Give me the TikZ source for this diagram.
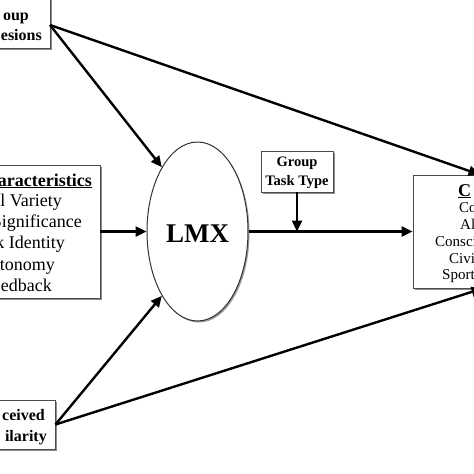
\documentclass[tikz,border=0pt]{standalone}
\usepackage{fontspec}
\setmainfont{Liberation Serif}
\usetikzlibrary{arrows.meta,shapes.geometric,shadows}
\begin{document}
\begin{tikzpicture}[x=1pt,y=-1pt,
  conn/.style={line width=2.4pt, draw=black},
  arr/.style={conn,-{Triangle[length=11pt,width=10pt]}},
  boxs/.style={draw=black!70, line width=0.9pt, fill=white, inner sep=0pt,
    drop shadow={shadow xshift=2pt, shadow yshift=-2pt, fill=black!45, opacity=1}},
  bt/.style={font=\bfseries\fontsize{16}{19}\selectfont, inner sep=0pt},
  it/.style={font=\fontsize{18}{21}\selectfont, inner sep=0pt},
  rt/.style={font=\fontsize{15}{18}\selectfont, inner sep=0pt},
]
\useasboundingbox (0,0) rectangle (474,474);
\clip (0,0) rectangle (474,474);
% boxes
\node[boxs, minimum width=170pt, minimum height=80pt] (tlbox) at (-35,8) {};
\node[boxs, minimum width=170pt, minimum height=133pt] (jcbox) at (15,231.5) {};
\node[boxs, minimum width=155pt, minimum height=49pt] (psbox) at (-22.5,424.5) {};
\node[boxs, minimum width=72pt, minimum height=41pt] (gtt) at (297,171.5) {};
\node[boxs, minimum width=147pt, minimum height=113pt] (rbox) at (486.5,231.5) {};
\node[ellipse, draw=black!80, line width=1pt, fill=white, inner sep=0pt,
  minimum width=101pt, minimum height=179pt,
  drop shadow={shadow xshift=1.5pt, shadow yshift=-1.5pt, fill=black!40, opacity=1}] (lmx) at (197.5,231.5) {};
% texts
\node[bt, anchor=base east] (t1) at (29,20) {oup};
\node[bt, anchor=base east] (t2) at (42,40.5) {esions};
\node[it, anchor=base east, font=\bfseries\fontsize{18}{21}\selectfont] (j0) at (92,186) {\underline{aracteristics}};
\node[it, anchor=base east] (j1) at (62,206) {l Variety};
\node[it, anchor=base east] (j2) at (82,227.5) {Significance};
\node[it, anchor=base east] (j3) at (65,248.5) {k Identity};
\node[it, anchor=base east] (j4) at (55,270) {utonomy};
\node[it, anchor=base east] (j5) at (52,291) {eedback};
\node[bt, anchor=base east] (p1) at (45,420) {ceived};
\node[bt, anchor=base east] (p2) at (47,441.5) {ilarity};
\node[bt, font=\bfseries\fontsize{14.5}{17}\selectfont, anchor=base] (g1) at (297,166) {Group};
\node[bt, font=\bfseries\fontsize{14.5}{17}\selectfont, anchor=base] (g2) at (297,185) {Task Type};
\node[bt, font=\bfseries\fontsize{27}{32}\selectfont, anchor=base] (lt) at (197.5,242) {LMX};
\node[rt, anchor=base west, font=\bfseries\fontsize{18}{21}\selectfont] (r0) at (458,196) {\underline{C}};
\node[rt, anchor=base west] (r1) at (459,212) {Co};
\node[rt, anchor=base west] (r2) at (460,229) {Al};
\node[rt, anchor=base west] (r3) at (435,246) {Consci};
\node[rt, anchor=base west] (r4) at (449,263) {Civi};
\node[rt, anchor=base west] (r5) at (442,279) {Sport};
% connector ends
\coordinate (tlp) at (50,25);
\coordinate (rtop) at ([xshift=67pt]rbox.north west);
\coordinate (rbot) at ([xshift=70pt]rbox.south west);
% connectors
\draw[arr] (tlp) -- (lmx.119);
\draw[arr] (tlp) -- (rtop);
\draw[arr] (jcbox.east) -- (lmx.west);
\draw[arr] (psbox.east) -- (lmx.241);
\draw[arr] (psbox.east) -- (rbot);
\draw[arr] (lmx.east) -- (rbox.west);
\draw[arr] (gtt.south) -- (gtt.south |- lmx.east);
\end{tikzpicture}
\end{document}
